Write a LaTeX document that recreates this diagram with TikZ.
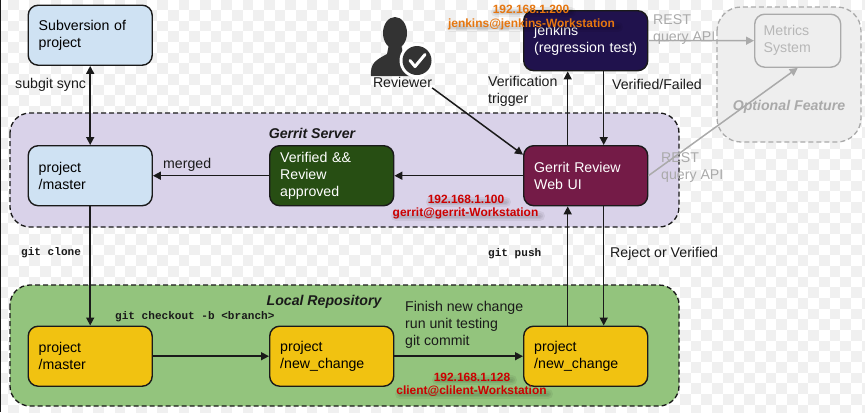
\documentclass[tikz,border=0pt]{standalone}
\usepackage{fontspec}
\setmainfont{Liberation Sans}
\setmonofont{Liberation Mono}
\usetikzlibrary{arrows.meta,calc}
\definecolor{chk}{HTML}{F0F0F0}
\definecolor{lineK}{HTML}{1A1A1A}
\definecolor{blueF}{HTML}{CFE2F3}
\definecolor{greenF}{HTML}{274E13}
\definecolor{plumF}{HTML}{741B47}
\definecolor{navyF}{HTML}{20124D}
\definecolor{yelF}{HTML}{F1C211}
\definecolor{purpF}{HTML}{D9D2E9}
\definecolor{leafF}{HTML}{93C47D}
\definecolor{greyL}{HTML}{AAAAAA}
\definecolor{greyF}{HTML}{EEEEEE}
\definecolor{ipOr}{HTML}{E6760F}
\definecolor{ipRed}{HTML}{CC0000}
\tikzset{
  x=1bp,y=-1bp,
  box/.style={draw=lineK,line width=1.4bp,rounded corners=10bp,minimum width=124bp,minimum height=60bp,
    text width=103bp,inner sep=0pt,align=left,font=\fontsize{14.2}{17}\selectfont,anchor=north west},
  group/.style={draw=lineK,line width=1.3bp,dash pattern=on 5bp off 3bp,rounded corners=20bp},
  conn/.style={draw=lineK,line width=1.5bp,-{Triangle[length=8bp,width=8bp]}},
  gconn/.style={draw=greyL,line width=1.5bp,-{Triangle[length=8bp,width=8bp]}},
  lbl/.style={font=\fontsize{14.2}{17}\selectfont,align=left,inner sep=0pt,text=lineK},
  mono/.style={font=\fontsize{11.1}{13}\selectfont\ttfamily\bfseries,inner sep=0pt,text=lineK},
  title/.style={font=\fontsize{14.2}{17}\selectfont\bfseries\itshape,inner sep=0pt,text=lineK},
  ip/.style={font=\fontsize{12}{14}\selectfont\bfseries,inner sep=0pt},
  smudge/.style={line cap=round,draw=black,opacity=.06},
}
\begin{document}
\begin{tikzpicture}
\useasboundingbox (0,0) rectangle (865,412);
\fill[white] (0,0) rectangle (865,412);
\foreach \i in {0,...,81}{\foreach \j in {0,...,38}{
  \ifodd\numexpr\i+\j\relax
    \fill[chk] ({-2.73+10.67*\i},{-0.67+10.67*\j}) rectangle ++(10.67,10.67);
  \fi
}}
\fill[lineK] (0,0) rectangle (1,412);
% groups
\path[group,fill=greyF,draw=greyL,rounded corners=24bp] (717,7) rectangle (861,142);
\path[group,fill=purpF] (10,113) rectangle (679,227);
\path[group,fill=leafF] (10,285) rectangle (679,406);
\node[title] (tserver) at (312,133) {Gerrit Server};
\node[title] (tlocal) at (324,302) {Local Repository};
\node[title,text=greyL] (topt) at (789,107) {Optional Feature};
% boxes
\node[box,fill=blueF] (svn) at (27.5,4.5) {Subversion of\\project};
\node[box,fill=blueF] (master) at (27.5,145) {project\\/master};
\node[box,fill=greenF,text=white] (verified) at (269,145) {Verified \&\&\\Review\\approved};
\node[box,fill=plumF,text=white] (gerrit) at (523,145) {Gerrit Review\\Web UI};
\node[box,fill=navyF,text=white] (jenkins) at (523,10) {jenkins\\(regression test)};
\node[box,fill=yelF] (lmaster) at (27.5,325.5) {project\\/master};
\node[box,fill=yelF] (lnew) at (269,325.5) {project\\/new\_change};
\node[box,fill=yelF] (lnewb) at (523,325.5) {project\\/new\_change};
\node[box,fill=greyF,draw=greyL,text=greyL!85,minimum width=86bp,minimum height=53bp,text width=68bp] (metrics) at (754,13.5) {Metrics\\System};
% reviewer icon
\fill[black!80] (395,33) ellipse (12bp and 16bp);
\fill[black!80] (371,76) .. controls (370,63) and (376,60) .. (387,54) -- (389,44) -- (401,44) -- (403,54)
  .. controls (414,60) and (421,64) .. (423,76) -- cycle;
\fill[white] (417,60.5) circle (17.5bp);
\fill[black!80] (417,60.5) circle (14.5bp);
\draw[white,line width=3bp,line cap=round,line join=round] (410,60.5) -- (415,66.5) -- (425,54.5);
\node[lbl,anchor=center] (rev) at (402.5,82.5) {Reviewer};
% connectors
\draw[conn,{Triangle[length=8bp,width=8bp]}-{Triangle[length=8bp,width=8bp]}] (svn.south) -- (master.north);
\draw[conn] (master.south) -- (lmaster.north);
\draw[conn] (lmaster.east) -- (lnew.west);
\draw[conn] (lnew.east) -- (lnewb.west);
\draw[conn] ([xshift=-18bp]lnewb.north) -- ([xshift=-18bp]gerrit.south);
\draw[conn] ([xshift=18bp]gerrit.south) -- ([xshift=18bp]lnewb.north);
\draw[conn] ([xshift=-18bp]gerrit.north) -- ([xshift=-18bp]jenkins.south);
\draw[conn] ([xshift=18bp]jenkins.south) -- ([xshift=18bp]gerrit.north);
\draw[conn] (gerrit.west) -- (verified.east);
\draw[conn] (verified.west) -- (master.east);
\draw[conn] (rev.south east) -- ([yshift=21bp]gerrit.west);
\draw[gconn] (jenkins.east) -- (metrics.west);
\draw[gconn] (gerrit.east) -- (metrics.south);
% labels
\node[lbl,anchor=west] (l1) at (15,85) {subgit sync};
\node[lbl,anchor=west] (l2) at (163,165) {merged};
\node[mono,anchor=west] (l3) at (21,253) {git clone};
\node[mono,anchor=west] (l4) at (488,253.5) {git push};
\node[lbl,anchor=west] (l5) at (610,254) {Reject or Verified};
\node[lbl,anchor=west] (l6) at (488,91) {Verification\\trigger};
\node[lbl,anchor=west] (l7) at (612,84) {Verified/Failed};
\node[lbl,anchor=west,text=greyL] (l8) at (653,29.5) {REST\\query API};
\node[lbl,anchor=west,text=greyL] (l9) at (661,167.5) {REST\\query API};
\node[lbl,anchor=west] (l10) at (405,325) {Finish new change\\run unit testing\\git commit};
\node[mono,anchor=west] (l11) at (115,317) {git checkout -b <branch>};
% ip labels
\foreach \w in {10,6,3}{
  \draw[smudge,line width=\w bp] (450,27) -- (618,27);
  \draw[smudge,line width=\w bp] (496,12) -- (571,12);
  \draw[smudge,line width=\w bp] (396,216) -- (540,216);
  \draw[smudge,line width=\w bp] (431,202) -- (506,202);
  \draw[smudge,line width=\w bp] (400,394) -- (548,394);
  \draw[smudge,line width=\w bp] (437,380) -- (512,380);
}
\node[ip,text=ipOr] (ip1) at (531,9.5) {192.168.1.200};
\node[ip,text=ipOr] (ip2) at (531.5,24) {jenkins@jenkins-Workstation};
\node[ip,text=ipRed] (ip3) at (466,199.5) {192.168.1.100};
\node[ip,text=ipRed] (ip4) at (465.5,213.5) {gerrit@gerrit-Workstation};
\node[ip,text=ipRed] (ip5) at (472,377.5) {192.168.1.128};
\node[ip,text=ipRed] (ip6) at (471.5,391.5) {client@clilent-Workstation};
\end{tikzpicture}
\end{document}
